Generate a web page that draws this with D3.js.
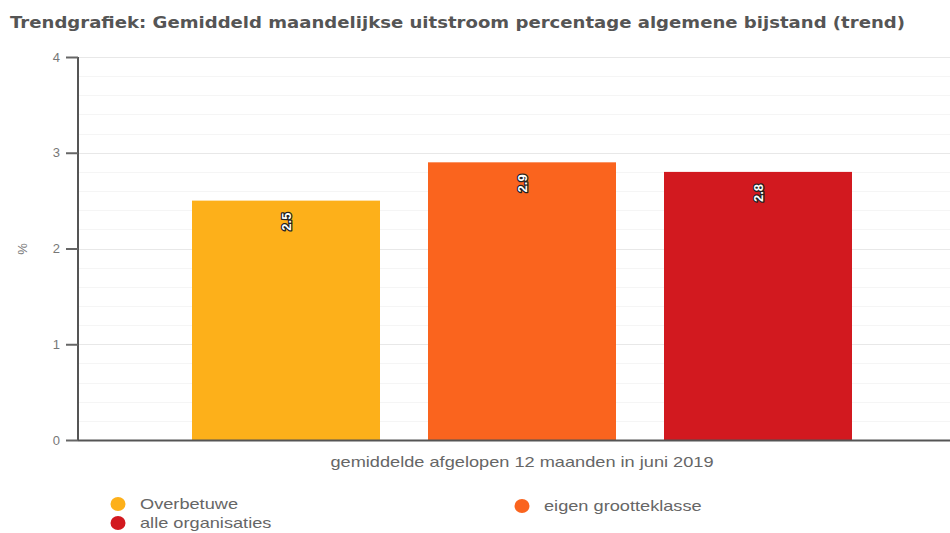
<!DOCTYPE html>
<html>
<head>
<meta charset="utf-8">
<script src="https://cdn.jsdelivr.net/npm/d3@7"></script>
<style>
  html, body { margin: 0; padding: 0; background: #fff; }
  svg { display: block; }
</style>
</head>
<body>
<svg id="chart" width="950" height="533"></svg>
<script>
const title = "Trendgrafiek: Gemiddeld maandelijkse uitstroom percentage algemene bijstand (trend)";
const category = "gemiddelde afgelopen 12 maanden in juni 2019";
const seriesNames = ["Overbetuwe", "eigen grootteklasse", "alle organisaties"];
const seriesValues = [2.5, 2.9, 2.8];
const seriesLabels = ["2.5", "2.9", "2.8"];
const seriesColors = ["#FDB01A", "#FA641E", "#D2191F"];
const yTicks = [0, 1, 2, 3, 4];
const yAxisTitle = "%";

const svg = d3.select("#chart");
const plotLeft = 78, plotRight = 950, plotTop = 57, plotBottom = 440;
const textStretch = 1.3;

const y = d3.scaleLinear().domain([0, 4]).range([plotBottom, plotTop]);
const x = d3.scaleBand().domain(seriesNames).range([168, 876])
  .paddingInner(48 / 236).paddingOuter(24 / 236);

// title
svg.append("text")
  .attr("x", 10).attr("y", 28)
  .attr("font-family", "DejaVu Sans, sans-serif")
  .attr("font-weight", "bold")
  .attr("font-size", 15)
  .attr("fill", "#555")
  .attr("textLength", 895)
  .attr("lengthAdjust", "spacingAndGlyphs")
  .text(title);

// minor gridlines
const minor = d3.range(0, 4.0001, 0.2);
svg.append("g").selectAll("line").data(minor).join("line")
  .attr("x1", plotLeft).attr("x2", plotRight)
  .attr("y1", d => Math.round(y(d)) + 0.5).attr("y2", d => Math.round(y(d)) + 0.5)
  .attr("stroke", "#f5f5f5").attr("stroke-width", 1);
// major gridlines
svg.append("g").selectAll("line").data(yTicks).join("line")
  .attr("x1", plotLeft).attr("x2", plotRight)
  .attr("y1", d => Math.round(y(d)) + 0.5).attr("y2", d => Math.round(y(d)) + 0.5)
  .attr("stroke", "#e8e8e8").attr("stroke-width", 1);

// bars
svg.append("g").selectAll("rect").data(seriesNames).join("rect")
  .attr("x", d => x(d))
  .attr("width", x.bandwidth())
  .attr("y", (d, i) => y(seriesValues[i]))
  .attr("height", (d, i) => plotBottom - y(seriesValues[i]))
  .attr("fill", (d, i) => seriesColors[i]);

// bar labels (rotated)
svg.append("g").selectAll("text").data(seriesNames).join("text")
  .attr("transform", (d, i) => `translate(${x(d) + x.bandwidth() / 2 + 4.5},${y(seriesValues[i]) + 12}) rotate(-90)`)
  .attr("text-anchor", "end")
  .attr("font-family", "Liberation Sans, Arial, sans-serif")
  .attr("font-weight", "bold")
  .attr("font-size", 13)
  .attr("fill", "#fff")
  .attr("stroke", "#222")
  .attr("stroke-width", 2.5)
  .attr("paint-order", "stroke")
  .attr("stroke-linejoin", "round")
  .text((d, i) => seriesLabels[i]);

// y axis
const yAxis = d3.axisLeft(y).tickValues(yTicks).tickFormat(d3.format("d")).tickSize(12).tickPadding(6);
const gy = svg.append("g").attr("transform", `translate(${plotLeft},0)`).call(yAxis);
gy.select(".domain").attr("stroke", "#555").attr("stroke-width", 2).attr("d", `M-0,${plotTop}V${plotBottom}`);
gy.selectAll(".tick line").attr("stroke", "#666").attr("stroke-width", 2);
gy.selectAll(".tick text").attr("font-family", "Liberation Sans, Arial, sans-serif")
  .attr("font-size", 13).attr("fill", "#777");

// x baseline
svg.append("line")
  .attr("x1", plotLeft).attr("x2", plotRight)
  .attr("y1", plotBottom + 0.5).attr("y2", plotBottom + 0.5)
  .attr("stroke", "#555").attr("stroke-width", 2);

// x category label (stretched horizontally like the reference)
const cx = (x(seriesNames[0]) + x(seriesNames[2]) + x.bandwidth()) / 2;
svg.append("text")
  .attr("transform", `translate(${cx},467) scale(${textStretch},1)`)
  .attr("text-anchor", "middle")
  .attr("font-family", "Liberation Sans, Arial, sans-serif")
  .attr("font-size", 14)
  .attr("fill", "#666")
  .text(category);

// y axis title
svg.append("text")
  .attr("transform", `translate(27,249) rotate(-90)`)
  .attr("text-anchor", "middle")
  .attr("font-family", "Liberation Sans, Arial, sans-serif")
  .attr("font-size", 13)
  .attr("fill", "#777")
  .text(yAxisTitle);

// legend
const legendPos = [[118, 504], [522, 506], [118, 523]];
const lg = svg.append("g").selectAll("g").data(seriesNames).join("g")
  .attr("transform", (d, i) => `translate(${legendPos[i][0]},${legendPos[i][1]})`);
lg.append("ellipse").attr("rx", 7.5).attr("ry", 7).attr("fill", (d, i) => seriesColors[i]);
lg.append("text")
  .attr("transform", `translate(22,5) scale(${textStretch},1)`)
  .attr("font-family", "Liberation Sans, Arial, sans-serif")
  .attr("font-size", 14)
  .attr("fill", "#666")
  .text(d => d);
</script>
</body>
</html>
